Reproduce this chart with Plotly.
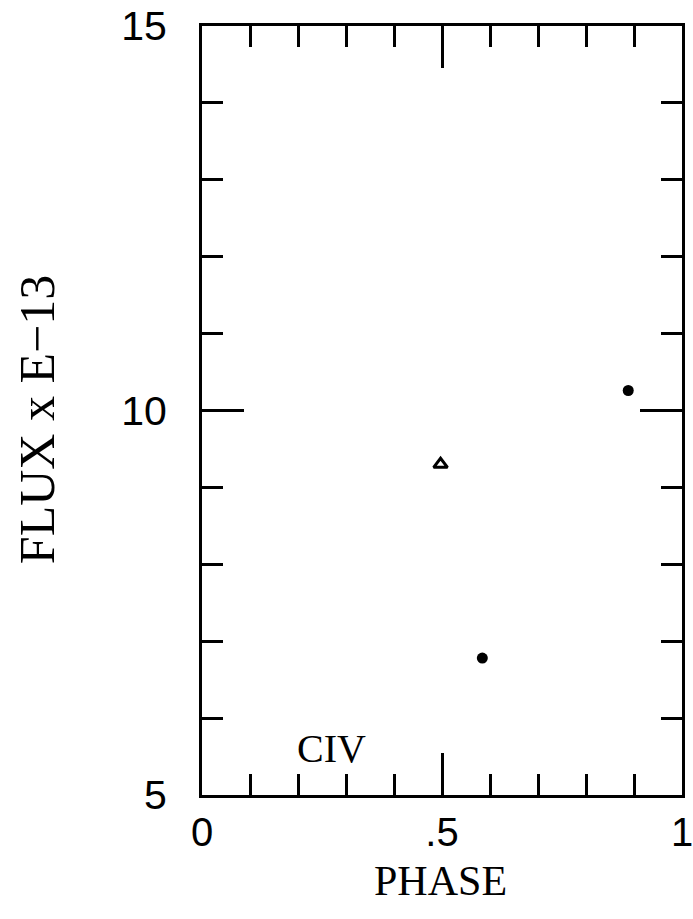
import plotly.graph_objects as go

# Data
phase_dots = [0.584, 0.888]
flux_dots = [6.78, 10.26]
phase_tri = [0.497]
flux_tri = [9.30]

x_tickvals = [0, 0.5, 1]
x_ticktext = ["0", ".5", "1"]
y_tickvals = [5, 10, 15]
y_ticktext = ["5", "10", "15"]

label_text = "CIV"
label_pos = (0.27, 5.6)
x_title = "PHASE"
y_title = "FLUX x E\u221213"

fig = go.Figure()
fig.add_trace(go.Scatter(x=phase_dots, y=flux_dots, mode="markers",
                         marker=dict(symbol="circle", size=11, color="black"),
                         showlegend=False))
fig.add_trace(go.Scatter(x=phase_tri, y=flux_tri, mode="markers",
                         marker=dict(symbol="triangle-up-open", size=12, color="black",
                                     line=dict(width=3, color="black")),
                         showlegend=False))

fig.add_annotation(x=label_pos[0], y=label_pos[1], text=label_text, showarrow=False,
                   font=dict(family="Liberation Serif", size=40, color="black"))
fig.add_annotation(xref="paper", yref="paper", x=0.496, y=-0.112, text=x_title,
                   showarrow=False, xanchor="center", yanchor="middle",
                   font=dict(family="Liberation Serif", size=42, color="black"))
fig.add_annotation(xref="paper", yref="paper", x=-0.345, y=0.488, text=y_title,
                   showarrow=False, xanchor="center", yanchor="middle", textangle=-90,
                   font=dict(family="Liberation Serif", size=50, color="black"))

axis_common = dict(showgrid=False, zeroline=False, showline=True, linecolor="black",
                   linewidth=3, mirror="allticks", ticks="inside", tickcolor="black",
                   tickwidth=3, automargin=False, ticklabeloverflow="allow")

fig.update_xaxes(range=[0, 1], tickvals=x_tickvals, ticktext=x_ticktext, ticklen=42,
                 minor=dict(dtick=0.1, tick0=0, ticks="inside", ticklen=21, tickwidth=3,
                            tickcolor="black", showgrid=False),
                 tickfont=dict(family="Liberation Sans", size=40, color="black"),
                 **axis_common)
fig.update_yaxes(range=[5, 15], tickvals=y_tickvals, ticktext=y_ticktext, ticklen=42,
                 minor=dict(dtick=1, tick0=5, ticks="inside", ticklen=21, tickwidth=3,
                            tickcolor="black", showgrid=False),
                 tickfont=dict(family="Liberation Sans", size=41, color="black"),
                 ticklabelstandoff=24,
                 **axis_common)

fig.update_layout(width=693, height=919, margin=dict(l=202, r=11, t=26, b=124),
                  plot_bgcolor="white", paper_bgcolor="white")

fig.write_html("out.html")
